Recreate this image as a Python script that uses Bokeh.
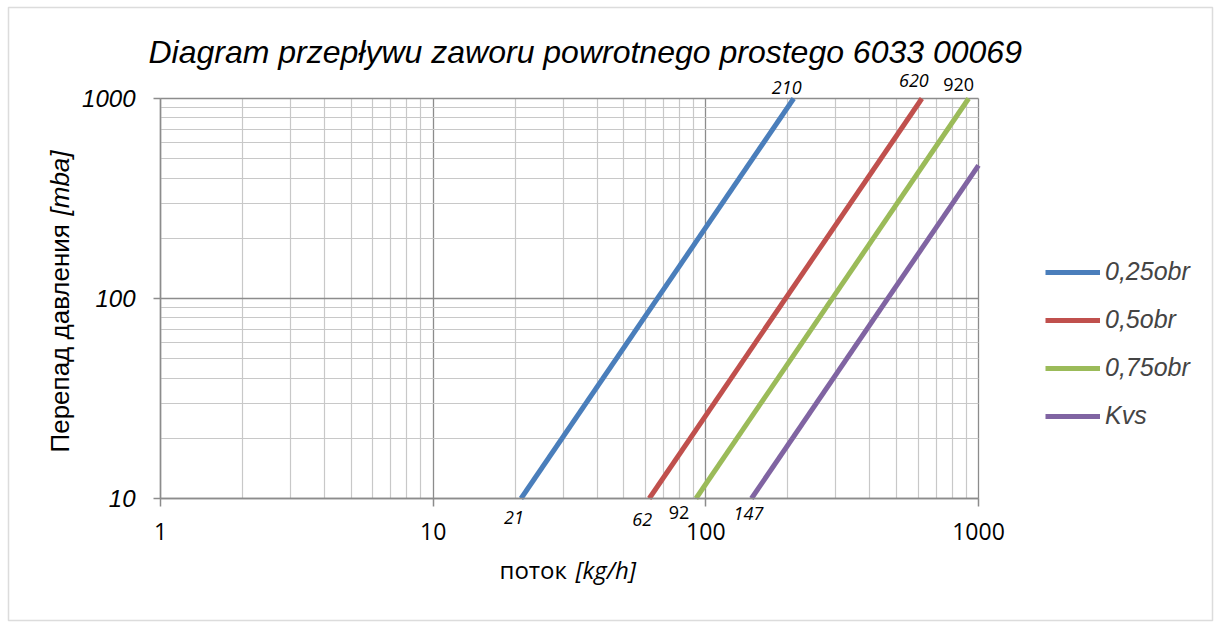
import math
from bokeh.plotting import figure
from bokeh.models import (FixedTicker, NumeralTickFormatter, Label, Legend,
                          LegendItem, Range1d, BoxAnnotation)
from bokeh.embed import file_html
from bokeh.resources import INLINE

# ---------------- data ----------------
title_text = "Diagram przepływu zaworu powrotnego prostego 6033 00069"
x_label_main = "поток"
x_label_unit = "[kg/h]"
y_label_main = "Перепад давления"
y_label_unit = "[mba]"

series_names = ["0,25obr", "0,5obr", "0,75obr", "Kvs"]
flow_025 = [21, 210]
dp_025 = [10, 1000]
flow_05 = [62, 620]
dp_05 = [10, 1000]
flow_075 = [92, 920]
dp_075 = [10, 1000]
flow_kvs = [147, 1000]
dp_kvs = [10, 463]

x_ticks = [1, 10, 100, 1000]
y_ticks = [10, 100, 1000]

point_text = ["21", "210", "62", "620", "92", "920", "147"]
point_flow = [21, 210, 62, 620, 92, 920, 147]
point_dp = [10, 1000, 10, 1000, 10, 1000, 10]

# ---------------- layout / styling ----------------
W, H = 1221, 622
PX_XMIN, PX_XMAX = 160, 978      # pixel columns of x = 1 and x = 1000
PX_YMAX, PX_YMIN = 98, 498       # pixel rows of y = 1000 and y = 10

colors = ["#4A7EBB", "#C0504D", "#9BBB59", "#8064A2"]
point_dx = [-7, -7, -7, -8, -17, -10, -3]
point_dy = [19, -11, 21, -18, 14, -14, 15]   # screen px, positive = down
point_style = ["italic", "italic", "italic", "italic", "normal", "normal", "italic"]

xlo, xhi = math.log10(x_ticks[0]), math.log10(x_ticks[-1])
ylo, yhi = math.log10(y_ticks[0]), math.log10(y_ticks[-1])
dec_x = (PX_XMAX - PX_XMIN) / (xhi - xlo)
dec_y = (PX_YMIN - PX_YMAX) / (yhi - ylo)
x_start = 10 ** (xlo - PX_XMIN / dec_x)
x_end = 10 ** (xhi + (W - PX_XMAX) / dec_x)
y_start = 10 ** (ylo - (H - PX_YMIN) / dec_y)
y_end = 10 ** (yhi + PX_YMAX / dec_y)

x_minor = [m * d for d in x_ticks[:-1] for m in range(2, 10)]
y_minor = [m * d for d in y_ticks[:-1] for m in range(2, 10)]

p = figure(width=W, height=H, x_axis_type="log", y_axis_type="log",
           x_range=Range1d(x_start, x_end), y_range=Range1d(y_start, y_end),
           output_backend="svg", toolbar_location=None,
           min_border=0, min_border_left=0, min_border_right=0,
           min_border_top=0, min_border_bottom=0)
p.outline_line_color = None
p.background_fill_color = "white"

xt = FixedTicker(ticks=x_ticks, minor_ticks=x_minor)
yt = FixedTicker(ticks=y_ticks, minor_ticks=y_minor)
p.xaxis.ticker = xt
p.yaxis.ticker = yt
p.xgrid.ticker = xt
p.ygrid.ticker = yt
p.xgrid.bounds = (x_ticks[0], x_ticks[-1])
p.xgrid.cross_bounds = (y_ticks[0], y_ticks[-1])
p.ygrid.bounds = (y_ticks[0], y_ticks[-1])
p.ygrid.cross_bounds = (x_ticks[0], x_ticks[-1])
for g in (p.xgrid, p.ygrid):
    g.grid_line_color = "#8c8c8c"
    g.grid_line_width = 1.3
    g.minor_grid_line_color = "#c8c8c8"
    g.minor_grid_line_width = 1.2

p.xaxis.fixed_location = y_ticks[0]
p.xaxis.bounds = (x_ticks[0], x_ticks[-1])
p.yaxis.fixed_location = x_ticks[0]
p.yaxis.bounds = (y_ticks[0], y_ticks[-1])

for ax in (p.xaxis, p.yaxis):
    ax.formatter = NumeralTickFormatter(format="0")
    ax.axis_line_color = "#8c8c8c"
    ax.axis_line_width = 1.5
    ax.major_tick_line_color = "#8c8c8c"
    ax.major_tick_line_width = 1.5
    ax.major_tick_in = 0
    ax.minor_tick_line_color = None
    ax.major_label_text_color = "black"

p.xaxis.major_tick_out = 8
p.xaxis.major_label_standoff = 16
p.xaxis.major_label_text_font = "Open Sans"
p.xaxis.major_label_text_font_size = "23px"

p.yaxis.major_tick_out = 7
p.yaxis.major_label_standoff = 18
p.yaxis.major_label_text_font = "Liberation Sans"
p.yaxis.major_label_text_font_style = "italic"
p.yaxis.major_label_text_font_size = "24px"

# outer chart border
p.add_layout(BoxAnnotation(left=8, right=1212, bottom=H - 620, top=H - 7,
                           left_units="screen", right_units="screen",
                           bottom_units="screen", top_units="screen",
                           fill_alpha=0, line_color="#8c8c8c", line_width=1.5))

flows = [flow_025, flow_05, flow_075, flow_kvs]
dps = [dp_025, dp_05, dp_075, dp_kvs]
items = []
for name, fl, dp, c in zip(series_names, flows, dps, colors):
    r = p.line(fl, dp, line_color=c, line_width=5)
    items.append(LegendItem(label=name, renderers=[r]))

for t, fx, fy, dx, dy, st in zip(point_text, point_flow, point_dp, point_dx, point_dy, point_style):
    p.add_layout(Label(x=fx, y=fy, text=t, x_offset=dx, y_offset=-dy,
                       text_align="center", text_baseline="middle",
                       text_font="Open Sans", text_font_style=st,
                       text_font_size="18px", text_color="black"))

# title
p.add_layout(Label(x=148, y=H - 51, x_units="screen", y_units="screen",
                   text=title_text, text_font="Liberation Sans", text_font_style="italic",
                   text_font_size="32px", text_align="left", text_baseline="middle",
                   text_color="black"))

# axis titles (mixed styles)
p.add_layout(Label(x=499, y=H - 569, x_units="screen", y_units="screen",
                   text=x_label_main, text_font="Open Sans", text_font_size="24px",
                   text_align="left", text_baseline="middle", text_color="black"))
p.add_layout(Label(x=575, y=H - 569, x_units="screen", y_units="screen",
                   text=x_label_unit, text_font="Open Sans", text_font_style="italic",
                   text_font_size="24px", text_align="left", text_baseline="middle",
                   text_color="black"))
p.add_layout(Label(x=59, y=H - 452, x_units="screen", y_units="screen", angle=math.pi / 2,
                   text=y_label_main, text_font="Liberation Sans", text_font_size="26px",
                   text_align="left", text_baseline="middle", text_color="black"))
p.add_layout(Label(x=59, y=H - 215, x_units="screen", y_units="screen", angle=math.pi / 2,
                   text=y_label_unit, text_font="Liberation Sans", text_font_style="italic",
                   text_font_size="26px", text_align="left", text_baseline="middle",
                   text_color="black"))

legend = Legend(items=items, location=(1045, H - 430), border_line_color=None,
                background_fill_alpha=0, padding=0, margin=0,
                glyph_width=55, glyph_height=28, label_height=28, spacing=19,
                label_standoff=5, label_text_font="Liberation Sans",
                label_text_font_style="italic", label_text_font_size="25px")
p.add_layout(legend)

open("out.html", "w").write(file_html(p, INLINE))
